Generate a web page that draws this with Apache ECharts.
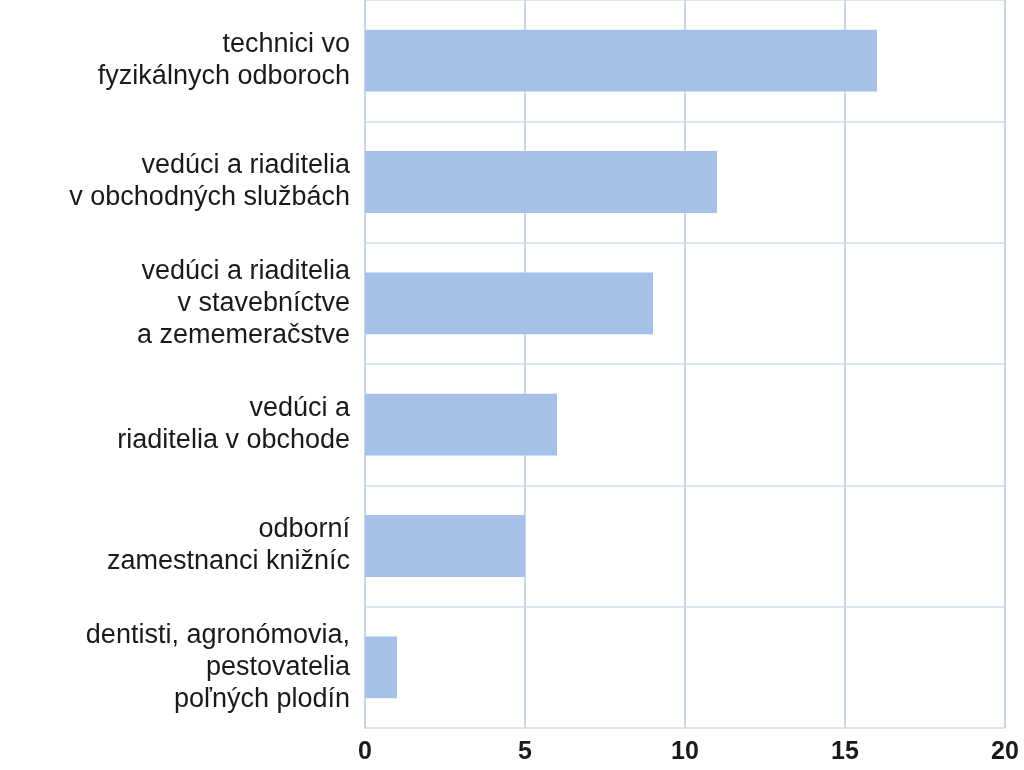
<!DOCTYPE html>
<html><head><meta charset="utf-8">
<script src="https://cdn.jsdelivr.net/npm/echarts@6/dist/echarts.min.js"></script>
<style>html,body{margin:0;padding:0;background:#fff}#c{width:1024px;height:770px}</style>
</head><body><div id="c"></div>
<script>
const categories = [
  "technici vo\nfyzikálnych odboroch",
  "vedúci a riaditelia\nv obchodných službách",
  "vedúci a riaditelia\nv stavebníctve\na zememeračstve",
  "vedúci a\nriaditelia v obchode",
  "odborní\nzamestnanci knižníc",
  "dentisti, agronómovia,\npestovatelia\npoľných plodín"
];
const values = [16, 11, 9, 6, 5, 1];
const chart = echarts.init(document.getElementById('c'));
chart.setOption({
  animation: false,
  grid: {left: 365, right: 19, top: 0, bottom: 42},
  xAxis: {
    type: 'value', min: 0, max: 20, interval: 5,
    axisLine: {show: false}, axisTick: {show: false},
    splitLine: {lineStyle: {color: '#c9d6e6', width: 2}},
    axisLabel: {color: '#1a1a1a', fontSize: 25, fontWeight: 'bold', fontFamily: 'Liberation Sans, Arial', margin: 12}
  },
  yAxis: {
    type: 'category', data: categories, inverse: true,
    axisLine: {lineStyle: {color: '#c9d6e6', width: 2}},
    axisTick: {show: false},
    splitLine: {show: true, lineStyle: {color: '#dde5ef', width: 2}},
    axisLabel: {color: '#1a1a1a', fontSize: 27, lineHeight: 32, fontFamily: 'Liberation Sans, Arial', margin: 15, align: 'right'}
  },
  series: [{
    type: 'bar', data: values, barWidth: '51%',
    itemStyle: {color: '#a6c1e8'}
  }]
});
</script></body></html>
